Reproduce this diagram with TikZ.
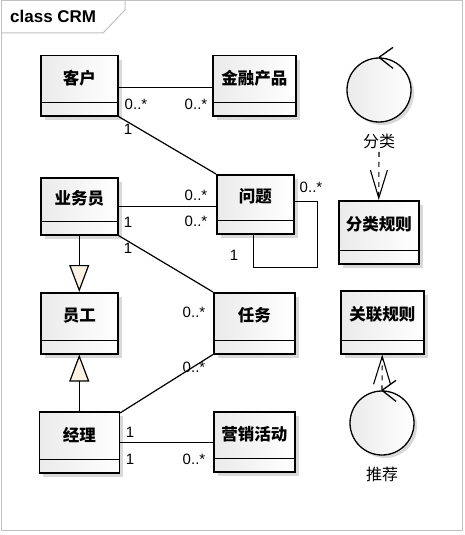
\documentclass[tikz,border=0pt]{standalone}
\usepackage{fontspec}
\setmainfont{Liberation Sans}
\newfontfamily\cjk{Noto Sans CJK SC}
\usepackage{tikz}
\usetikzlibrary{positioning}
\usetikzlibrary{arrows.meta}
\usetikzlibrary{shadows}

\definecolor{genfill}{RGB}{251,242,228}
\definecolor{framegray}{RGB}{192,192,192}

\begin{document}
\begin{tikzpicture}
[   x = 1pt,
    y = -1pt,
    font = \fontsize{15}{17}\selectfont,
    cls/.style = {draw, line width=1.5pt, anchor=north west, inner sep=0pt,
        left color=gray!16, right color=white,
        general shadow={fill=gray!30, shadow xshift=4pt, shadow yshift=-4pt}},
    ctitle/.style = {anchor=north, inner sep=0pt,
        font=\cjk\bfseries\fontsize{16.5}{18}\selectfont},
    ctrl/.style = {circle, draw, line width=1.3pt, minimum size=64pt, inner sep=0pt,
        left color=gray!16, right color=white,
        general shadow={fill=gray!30, shadow xshift=3pt, shadow yshift=-3pt}},
    clsline/.style = {line width=1.3pt},
    assoc/.style = {line width=1.2pt},
    gen/.style = {line width=1.2pt, -{Triangle[length=27pt,width=20pt,fill=genfill]}},
    dep/.style = {line width=1.1pt, dash pattern=on 5pt off 5pt,
        -{Straight Barb[length=28pt,width=17pt]}},
    mult/.style = {inner sep=0pt},
    lbl/.style = {inner sep=0pt, font=\cjk\fontsize{16}{18}\selectfont}
]
\useasboundingbox (0,0) rectangle (464,535);

% frame
\draw[framegray, line width=1pt] (1,1) rectangle (462,530);
\draw[framegray, line width=1pt] (1,33) -- (103,33) -- (125,10) -- (125,1);
\node[anchor=west, inner sep=0pt, font=\bfseries\fontsize{17}{20}\selectfont] (frametitle) at (10,16) {class CRM};

% classes
\foreach \n/\x/\y/\w/\h/\t in {
    kehu/40/55/77/60/客户,
    jinrong/212/55/83/60/金融产品,
    yewu/40/177/77/57/业务员,
    wenti/216/174/77/59/问题,
    yuangong/40/292/77/61/员工,
    renwu/213/292/81/61/任务,
    jingli/38.5/411/80/61/经理,
    yingxiao/213/411/81/60/营销活动,
    fenleigz/338/200/80/63/分类规则,
    guanlian/340/290/83/63/关联规则}
{
    \node[cls, minimum width=\w pt, minimum height=\h pt] (\n) at (\x,\y) {};
    \node[ctitle, minimum height=\h pt-14pt] (\n-t) at (\n.north) {\t};
    \draw[clsline] ([yshift=14pt]\n.south west) -- ([yshift=14pt]\n.south east);
}

% controls
\node[ctrl] (fenlei) at (379,90) {};
\draw[clsline] (fenlei.north) -- ++(14,-10) (fenlei.north) -- ++(14,11);
\node[lbl, below=11pt of fenlei] (fenlei-l) {分类};

\node[ctrl] (tuijian) at (382,423) {};
\node[lbl, below=11pt of tuijian] (tuijian-l) {推荐};

% associations
\draw[assoc] ([yshift=-2pt]kehu.east) -- ([yshift=-2pt]jinrong.west);
\draw[assoc] (kehu.south east) -- (wenti.north west);
\draw[assoc] (yewu.east) -- (yewu.east -| wenti.west);
\draw[assoc] (yewu.south east) -- (renwu.north west);
\draw[assoc] ([yshift=2.5pt]wenti.east) -| ++(23,66) -| ([xshift=-1.5pt]wenti.south);
\draw[assoc] ([yshift=-2pt]jingli.north east) -- (renwu.south west);
\draw[assoc] (jingli.east) -- (jingli.east -| yingxiao.west);

% generalisations
\draw[gen] (yewu.south) -- (yuangong.north);
\draw[gen] (jingli.north) -- (yuangong.south);

% dependencies
\draw[dep] ([yshift=-3pt]fenlei-l.south) -- (fenleigz.north);
\draw[dep] (tuijian.north) -- (guanlian.south);
\draw[clsline] (tuijian.north) -- ++(14,-10) (tuijian.north) -- ++(14,11);

% multiplicities
\node[mult] (m1) at (136,104) {0..*};
\node[mult] (m2) at (196,104) {0..*};
\node[mult] (m3) at (128,129) {1};
\node[mult] (m4) at (196,195) {0..*};
\node[mult] (m5) at (196,221) {0..*};
\node[mult] (m6) at (128,222) {1};
\node[mult] (m7) at (128,248) {1};
\node[mult] (m8) at (311,187) {0..*};
\node[mult] (m9) at (234,255) {1};
\node[mult] (m10) at (194,312) {0..*};
\node[mult] (m11) at (194,367) {0..*};
\node[mult] (m12) at (130,432) {1};
\node[mult] (m13) at (130,459) {1};
\node[mult] (m14) at (194,459) {0..*};
\end{tikzpicture}
\end{document}
